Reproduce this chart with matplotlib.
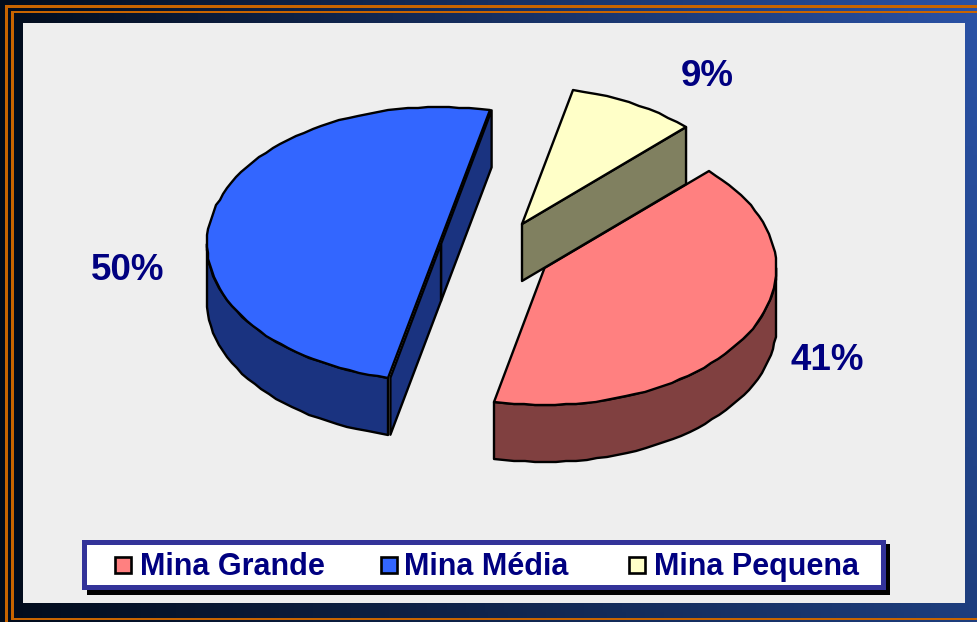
import numpy as np
import matplotlib
matplotlib.use("Agg")
import matplotlib.pyplot as plt
from matplotlib.patches import Polygon, Rectangle

names = ["Mina Pequena", "Mina Grande", "Mina Média"]
shares = [9, 41, 50]
labels = ["9%", "41%", "50%"]
top_colors = ["#FFFFC8", "#FF8080", "#3366FF"]
side_colors = ["#808060", "#804040", "#1A3380"]
centers = [(522, 224), (544.5, 268), (439, 244)]
cut_shift = [0, 0, 2]

legend_names = ["Mina Grande", "Mina Média", "Mina Pequena"]
legend_colors = ["#FF8080", "#3366FF", "#FFFFC8"]
legend_swatch_x = [114.5, 380.5, 628.5]
legend_text_x = [140, 404, 654]
label_pos = [(707, 76), (827, 360), (128, 270)]

RX, RY, DEPTH = 232, 137, 57
START = 77.4
NAVY = "#000080"

plt.rcParams["font.family"] = ["Liberation Sans", "DejaVu Sans"]

fig = plt.figure(figsize=(9.77, 6.22), dpi=100)
ax = fig.add_axes([0, 0, 1, 1])
ax.set_xlim(0, 977)
ax.set_ylim(622, 0)
ax.axis("off")

# frame gradient, brighter towards the top right
h, w = 64, 256
u = np.linspace(0, 1, w)[None, :, None]
v = np.linspace(0, 1, h)[:, None, None]
left = np.array([0x02, 0x0C, 0x1C]) / 255
right_top = np.array([0x2A, 0x52, 0xA6]) / 255
right_bot = np.array([0x1E, 0x3E, 0x7E]) / 255
img = (1 - u) * left + u * (right_top * (1 - v) + right_bot * v)
ax.imshow(img, extent=(0, 977, 622, 0), aspect="auto", zorder=0)
ax.set_xlim(0, 977)
ax.set_ylim(622, 0)

orange = "#C86400"
for x0, y0, x1, y1 in [(5, 5, 2.7, 617), (5, 5, 972, 2.7),
                       (11, 10.5, 2.7, 609), (11, 10.5, 966, 2.7),
                       (11, 617.5, 966, 2.7)]:
    ax.add_patch(Rectangle((x0, y0), x1, y1, fc=orange, ec="none", zorder=1))
ax.add_patch(Rectangle((23, 23), 942, 580, fc="#EEEEEE", ec="none", zorder=2))


def arc(c, t0, t1, dz=0):
    n = max(2, int(abs(t1 - t0) / 2.5))
    t = np.radians(np.linspace(t0, t1, n))
    pts = np.column_stack([c[0] + RX * np.cos(t), c[1] - RY * np.sin(t) + dz])
    # the source is a coarse metafile, its curves are slightly stepped
    return np.round(pts)


def draw_slice(i, t0, t1, z):
    c = centers[i]
    blk = dict(ec="black", lw=1.7, joinstyle="round", zorder=z)
    # outer wall, only the part facing the viewer
    lo, hi = max(t0, -180), min(t1, 0)
    if hi > lo:
        wall = np.vstack([arc(c, lo, hi), arc(c, hi, lo, DEPTH)])
        ax.add_patch(Polygon(wall, fc=side_colors[i], **blk))
    # cut walls, visible when the outward normal points down
    s = cut_shift[i]
    for t, normal in ((t0, t0 - 90), (t1, t1 + 90)):
        if np.sin(np.radians(normal)) < 0:
            p = (c[0] + RX * np.cos(np.radians(t)), c[1] - RY * np.sin(np.radians(t)))
            q = [(c[0] + s, c[1]), (p[0] + s, p[1]), (p[0] + s, p[1] + DEPTH),
                 (c[0] + s, c[1] + DEPTH)]
            ax.add_patch(Polygon(q, fc=side_colors[i], **blk))
    top = np.vstack([[c], arc(c, t0, t1)])
    ax.add_patch(Polygon(top, fc=top_colors[i], **blk))


angles = START - np.cumsum([0] + shares) * 3.6
for n, i in enumerate([1, 0, 2]):
    draw_slice(i, angles[i + 1], angles[i], 5 + n)

for lab, pos in zip(labels, label_pos):
    ax.text(pos[0], pos[1], lab, color=NAVY, fontsize=26.5, fontweight="bold",
            ha="center", va="center", zorder=10)

# legend box
ax.add_patch(Rectangle((87, 544), 803, 51, fc="black", ec="none", zorder=10))
ax.add_patch(Rectangle((84.3, 541.5), 798.2, 45, fc="white", ec="#333399", lw=3.6, zorder=11))
for sx, tx, name, col in zip(legend_swatch_x, legend_text_x, legend_names, legend_colors):
    ax.add_patch(Rectangle((sx, 556.5), 16, 16, fc=col, ec="black", lw=1.9, zorder=12))
    ax.text(tx, 567, name, color=NAVY, fontsize=22, fontweight="bold",
            ha="left", va="center", zorder=12)

fig.savefig("out.png", dpi=100)
